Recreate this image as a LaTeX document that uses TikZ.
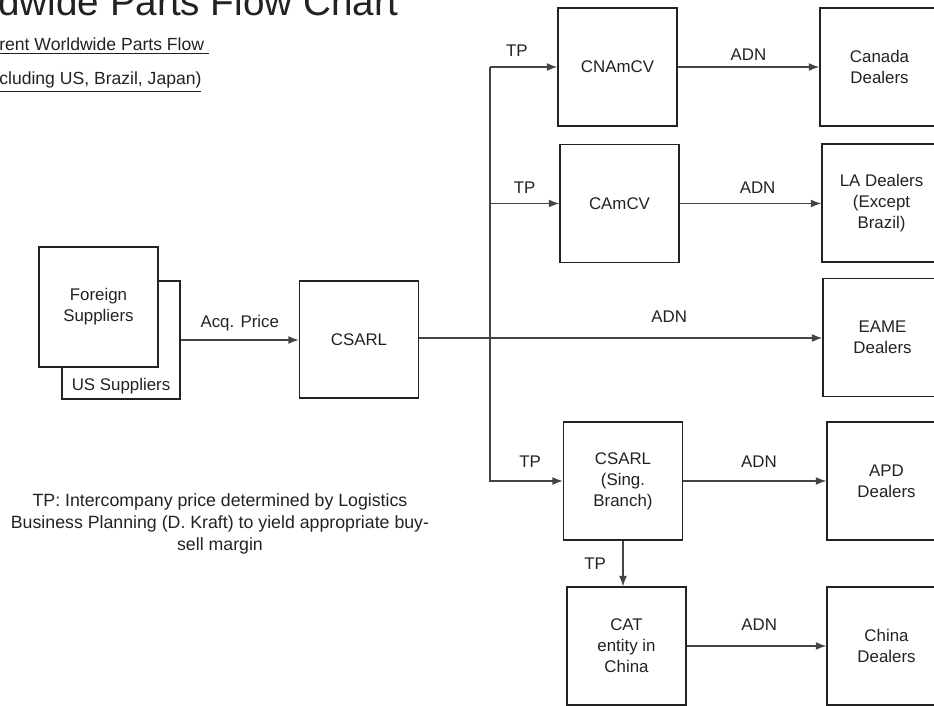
\documentclass[tikz,border=0pt]{standalone}
\usepackage{fontspec}
\setmainfont{Liberation Sans}
\usetikzlibrary{arrows.meta}
\definecolor{inkgray}{HTML}{222222}
\definecolor{linegray}{HTML}{444444}

\begin{document}
\begin{tikzpicture}[x=0.02cm,y=-0.02cm,
    font=\fontsize{9.6}{12}\selectfont,
    every node/.style={text=inkgray},
    box/.style={draw=inkgray,line width=0.7pt,fill=white,align=center,
      minimum width=2.38cm,minimum height=2.36cm,inner sep=1pt},
    flow/.style={draw=linegray,line width=0.8pt,-{Latex[length=6pt,width=4.5pt]}}]
  \useasboundingbox (0,0) rectangle (934,706);
  % heading, cut at the edges
  \node[anchor=base west,inner sep=0pt,font=\fontsize{22}{26}\selectfont] (title) at (-2,16) {dwide Parts Flow Chart};
  \node[anchor=base west,inner sep=0pt,font=\fontsize{10}{12}\selectfont] (sub1) at (-1,51) {\underline{rent Worldwide Parts Flow\ }};
  \node[anchor=base west,inner sep=0pt,font=\fontsize{10}{12}\selectfont] (sub2) at (-1,85) {\underline{cluding US, Brazil, Japan)}};
  % suppliers and hub
  \node[box,minimum width=2.36cm,label={[name=uslbl,anchor=south,inner sep=3pt]south:US Suppliers}] (us) at (121,340) {};
  \node[box,minimum height=2.4cm] (foreign) at (98.5,307) {Foreign\\Suppliers};
  \node[box,minimum height=2.34cm] (csarl) at (359,339.5) {CSARL};
  % regional entities
  \node[box] (cnamcv) at (617.5,67) {CNAmCV};
  \node[box] (camcv) at (619.5,203.5) {CAmCV};
  \node[box] (sing) at (623,481) {CSARL\\(Sing.\\Branch)};
  \node[box] (cat) at (626.5,646) {CAT\\entity in\\China};
  % dealers
  \node[box] (canada) at (879.5,67) {Canada\\Dealers};
  \node[box] (la) at (881.5,203) {LA Dealers\\(Except\\Brazil)};
  \node[box] (eame) at (882.5,337.5) {EAME\\Dealers};
  \node[box] (apd) at (886.5,481) {APD\\Dealers};
  \node[box] (china) at (886.5,646) {China\\Dealers};
  % flows
  \coordinate (split) at (490,338);
  \draw[flow] (us.east) -- node[above=1.5pt] (acq) {Acq. Price} (us.east -| csarl.west);
  \draw[flow] (csarl.east |- split) -- node[above=5pt,pos=0.62] (adn3) {ADN} (split -| eame.west);
  \draw[flow] (split |- cnamcv.west) -- (split |- sing.west) -- node[above=4pt,pos=0.55] (tp3) {TP} (sing.west);
  \draw[flow] (split |- cnamcv.west) -- node[above=2pt,pos=0.4] (tp1) {TP} (cnamcv.west);
  \draw[flow] (split |- camcv.west) -- node[above=2pt] (tp2) {TP} (camcv.west);
  \draw[flow] (sing.south) -- node[left=6pt] (tp4) {TP} (sing.south |- cat.north);
  \draw[flow] (cnamcv.east) -- node[above=0pt] (adn1) {ADN} (cnamcv.east -| canada.west);
  \draw[flow] (camcv.east) -- node[above=2pt,pos=0.55] (adn2) {ADN} (camcv.east -| la.west);
  \draw[flow] (sing.east) -- node[above=4pt,pos=0.53] (adn4) {ADN} (sing.east -| apd.west);
  \draw[flow] (cat.east) -- node[above=5pt,pos=0.52] (adn5) {ADN} (cat.east -| china.west);
  % footnote
  \node[align=center,font=\fontsize{10.1}{12.4}\selectfont] (note) at (220,524)
    {TP: Intercompany price determined by Logistics\\Business Planning (D. Kraft) to yield appropriate buy-\\sell margin};
\end{tikzpicture}
\end{document}
